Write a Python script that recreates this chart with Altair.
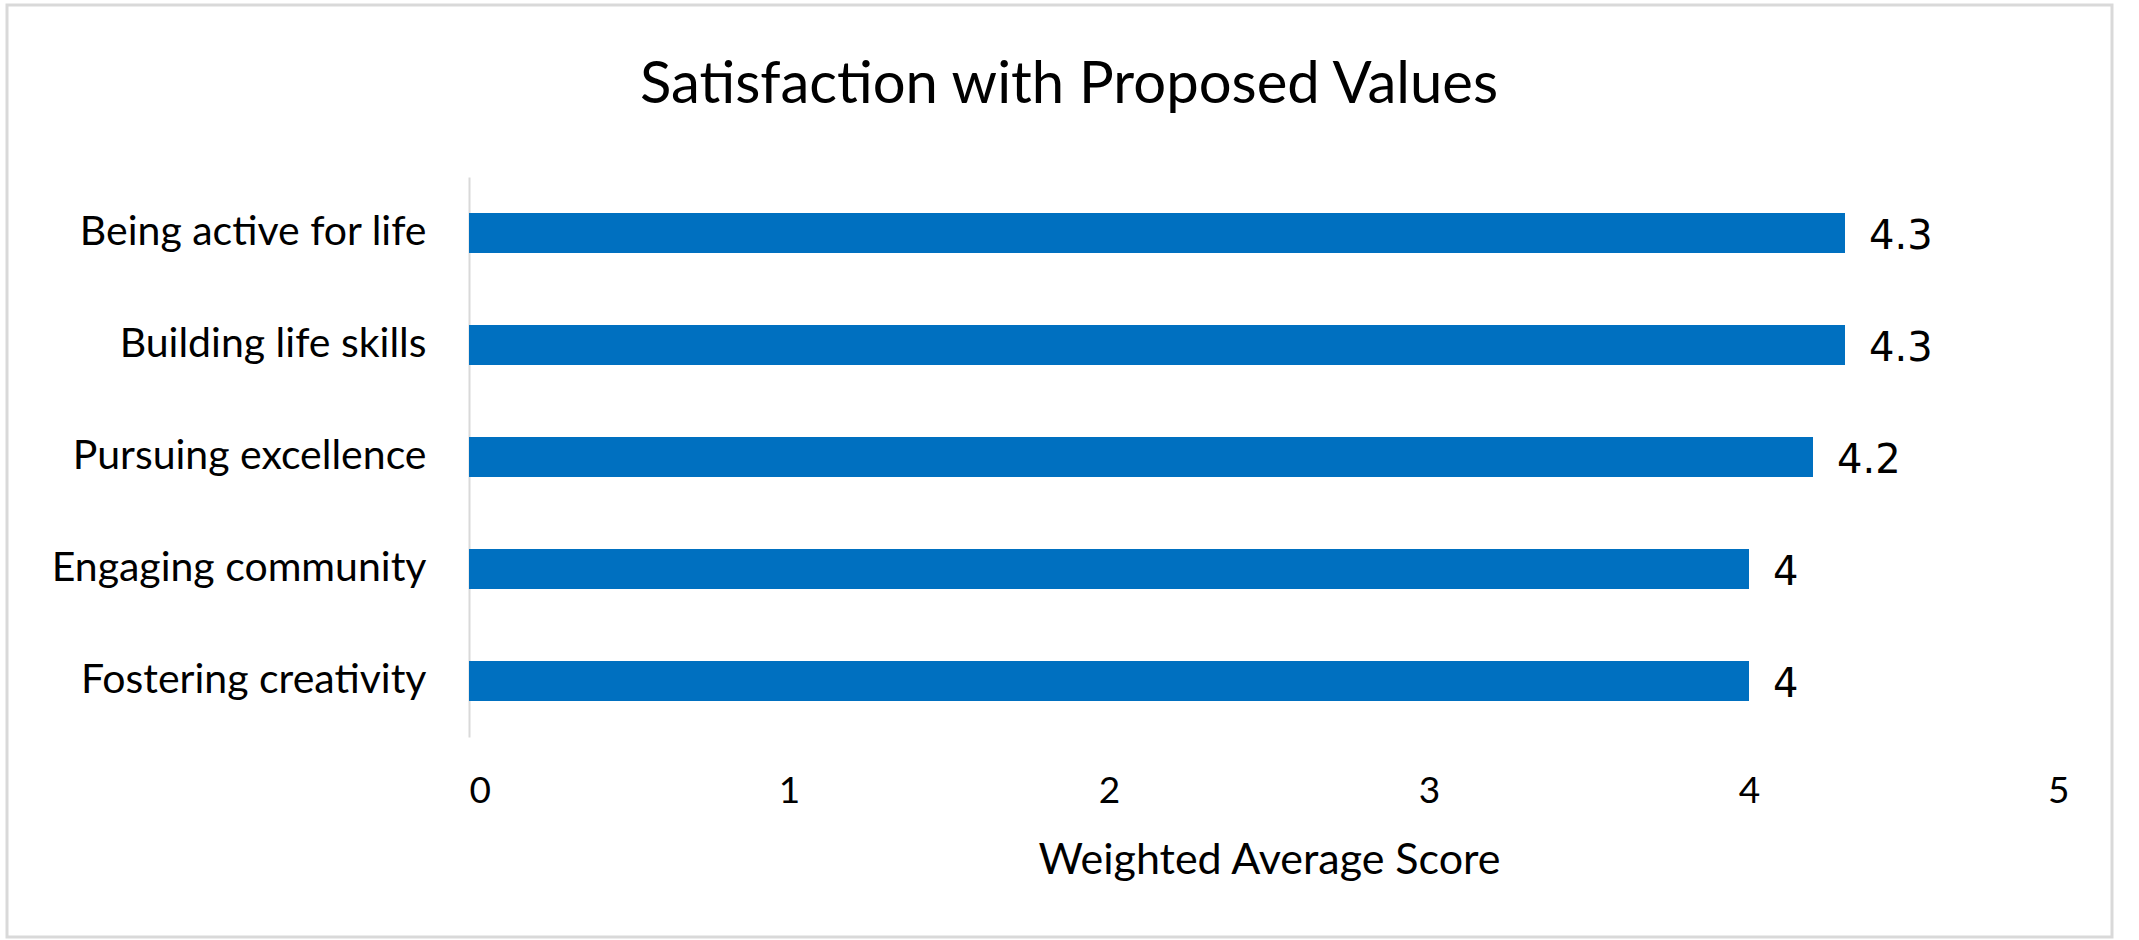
import altair as alt
import pandas as pd

categories = ["Being active for life", "Building life skills", "Pursuing excellence",
              "Engaging community", "Fostering creativity"]
scores = [4.3, 4.3, 4.2, 4.0, 4.0]
score_labels = ["4.3", "4.3", "4.2", "4", "4"]
x_ticks = [0, 1, 2, 3, 4, 5]

df = pd.DataFrame({"category": categories, "score": scores, "label": score_labels})

FONT = "Lato"
BLUE = "#0070C0"
GRID = "#d9d9d9"

base = alt.Chart(df)

y_enc = alt.Y("category:N", sort=categories, title=None,
              scale=alt.Scale(paddingInner=0.643, paddingOuter=0.3215),
              axis=alt.Axis(labelFont=FONT, labelFontSize=41, labelColor="#000000",
                            labelPadding=43, ticks=False, domain=True, domainColor=GRID,
                            domainWidth=2, grid=False, labelBaseline="middle",
                            labelLimit=600))

bars = base.mark_bar(color=BLUE).encode(
    x=alt.X("score:Q", title="Weighted Average Score",
            scale=alt.Scale(domain=[0, 5], nice=False),
            axis=alt.Axis(values=x_ticks, format="d", labelFont=FONT, labelFontSize=37,
                          labelColor="#000000", ticks=False, domain=False, grid=False,
                          labelPadding=54, labelBaseline="middle",
                          titleFont=FONT, titleFontSize=43, titleFontWeight="normal",
                          titleColor="#000000", titleY=123, titleBaseline="middle")),
    y=y_enc,
)

texts = base.mark_text(align="left", baseline="middle", dx=24, dy=4,
                       font="DejaVu Sans", fontSize=40, color="#000000").encode(
    x="score:Q",
    y=alt.Y("category:N", sort=categories),
    text="label:N",
)

border = alt.Chart(alt.Data(values=[{"a": 1}])).mark_rect(
    fill="transparent", stroke=GRID, strokeWidth=3, clip=False
).encode(
    x=alt.value(-462), x2=alt.value(1643), y=alt.value(-172), y2=alt.value(760)
)

chart = alt.layer(border, bars, texts).properties(
    width=1600, height=560,
    background="#ffffff",
    title=alt.TitleParams("Satisfaction with Proposed Values", font=FONT, fontSize=58,
                          fontWeight="normal", color="#000000", anchor="middle",
                          frame="group", dx=-200, offset=0, dy=157, baseline="alphabetic"),
    autosize=alt.AutoSizeParams(type="none"),
    padding={"left": 469, "top": 177, "right": 70, "bottom": 203},
).configure_view(stroke="transparent", strokeWidth=0)

chart.save("out.html", embed_options={"renderer": "svg", "actions": False})
